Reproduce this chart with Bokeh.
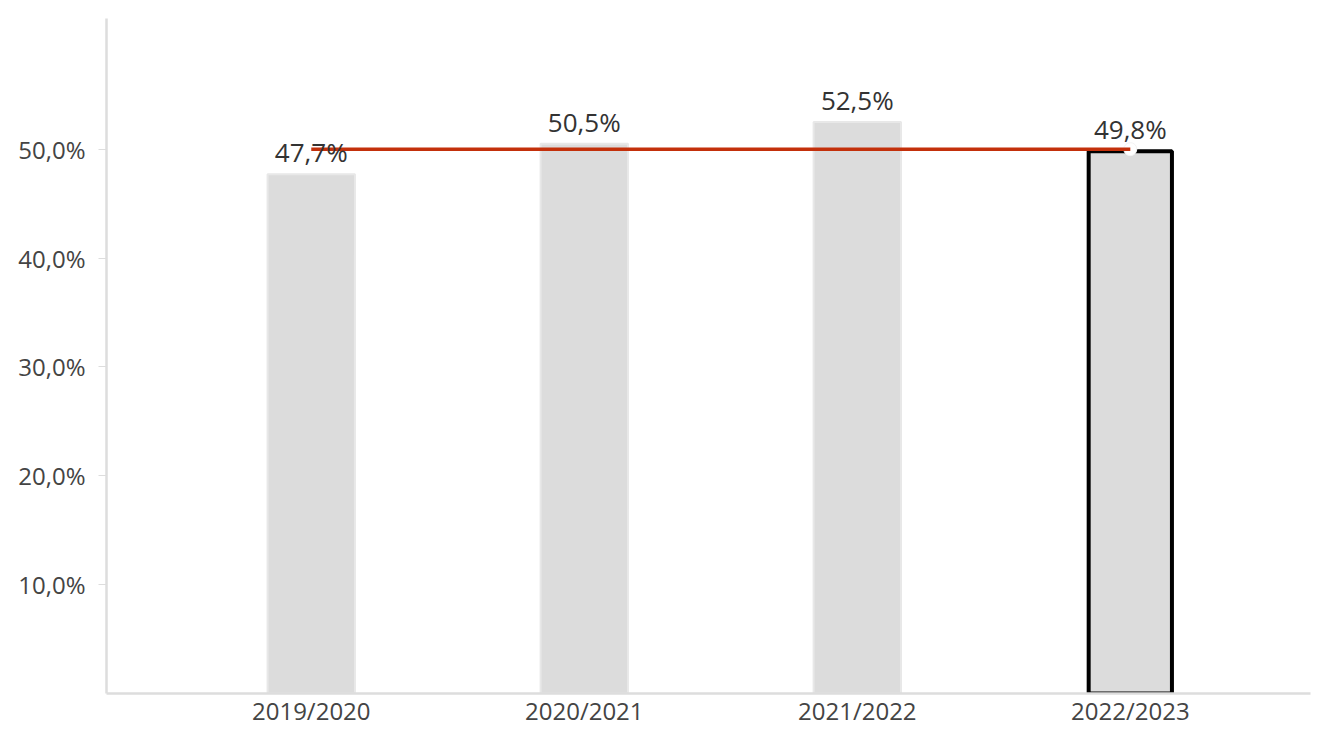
from bokeh.plotting import figure
from bokeh.models import Range1d, FixedTicker, ColumnDataSource, CustomJSTickFormatter
from bokeh.core.properties import value
from bokeh.embed import file_html
from bokeh.resources import INLINE

categories = ["2019/2020", "2020/2021", "2021/2022", "2022/2023"]
shares = [47.7, 50.5, 52.5, 49.8]
target = [50.0, 50.0, 50.0, 50.0]
labels = ["47,7%", "50,5%", "52,5%", "49,8%"]
y_ticks = [10, 20, 30, 40, 50]

FONT = "Open Sans"
xs = list(range(len(categories)))

p = figure(width=1312, height=729, output_backend="svg", toolbar_location=None,
           x_range=Range1d(-0.75, 3.66), y_range=Range1d(0, 62),
           min_border_left=106, min_border_top=18, min_border_right=2, min_border_bottom=20)
p.outline_line_color = None
p.grid.grid_line_color = None
p.background_fill_color = "white"

src = ColumnDataSource(dict(x=xs, top=shares, label=labels))
p.vbar(x=xs[:-1], top=shares[:-1], width=0.32, fill_color="#dcdcdc", line_color="#e8e8e8", line_width=2)
p.vbar(x=xs[-1:], top=shares[-1:], width=0.305, fill_color="#dcdcdc", line_color="black", line_width=4)

p.scatter([xs[-1]], [target[-1]], size=13, fill_color="white", line_color="#f4f4f4", line_width=1)
p.line(xs, target, line_color="#c3300b", line_width=3.5)

p.text(x="x", y="top", text="label", source=src, text_align="center", text_baseline="bottom",
       y_offset=-4, text_font=value(FONT), text_font_size="26px", text_color="#333333")

# y axis
ya = p.yaxis[0]
ya.ticker = FixedTicker(ticks=y_ticks)
ya.formatter = CustomJSTickFormatter(code="return tick.toFixed(1).replace('.', ',') + '%';")
ya.axis_line_color = "#dddddd"
ya.axis_line_width = 2.5
ya.major_tick_line_color = "#dddddd"
ya.major_tick_out = 8
ya.major_tick_in = 0
ya.minor_tick_line_color = None
ya.major_label_standoff = 13
ya.major_label_text_font = FONT
ya.major_label_text_font_size = "24px"
ya.major_label_text_color = "#444444"

# x axis
xa = p.xaxis[0]
xa.ticker = FixedTicker(ticks=xs)
xa.major_label_overrides = {i: c for i, c in enumerate(categories)}
xa.axis_line_color = "#dddddd"
xa.axis_line_width = 2.5
xa.major_tick_line_color = None
xa.major_tick_out = 0
xa.major_tick_in = 0
xa.minor_tick_line_color = None
xa.minor_tick_out = 0
xa.major_label_standoff = 0
xa.major_label_text_font = FONT
xa.major_label_text_font_size = "24px"
xa.major_label_text_color = "#444444"

open("out.html", "w").write(file_html(p, INLINE))
